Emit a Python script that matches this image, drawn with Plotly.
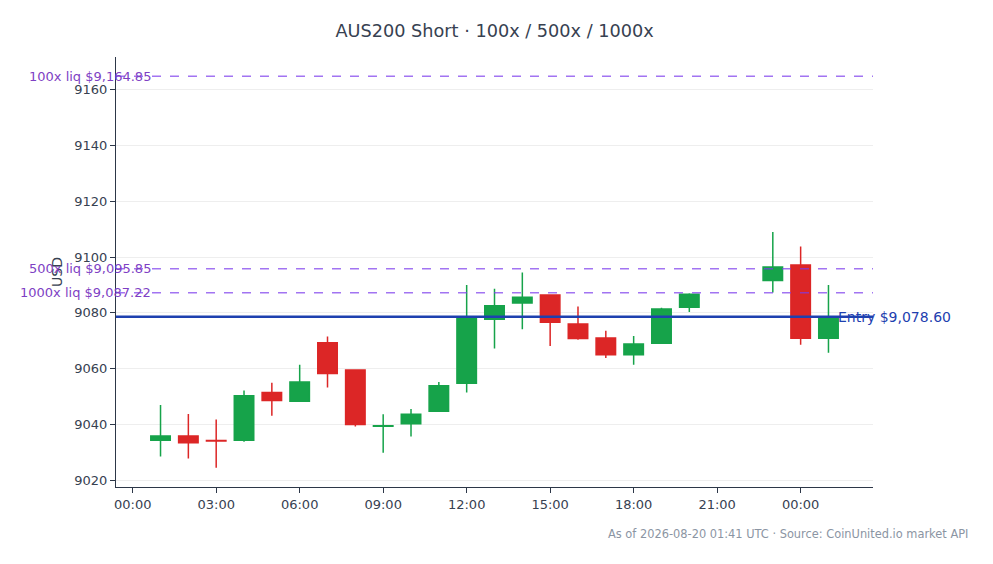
import plotly.graph_objects as go

# %% Data ----------------------------------------------------------------------
times = [
    "2026-08-19 01:00", "2026-08-19 02:00", "2026-08-19 03:00", "2026-08-19 04:00",
    "2026-08-19 05:00", "2026-08-19 06:00", "2026-08-19 07:00", "2026-08-19 08:00",
    "2026-08-19 09:00", "2026-08-19 10:00", "2026-08-19 11:00", "2026-08-19 12:00",
    "2026-08-19 13:00", "2026-08-19 14:00", "2026-08-19 15:00", "2026-08-19 16:00",
    "2026-08-19 17:00", "2026-08-19 18:00", "2026-08-19 19:00", "2026-08-19 20:00",
    "2026-08-19 23:00", "2026-08-20 00:00", "2026-08-20 01:00",
]
opens = [9034.3, 9035.8, 9034.2, 9034.3, 9051.4, 9048.3, 9069.3, 9059.5,
         9039.3, 9040.2, 9044.7, 9054.7, 9077.7, 9083.5, 9086.4, 9076.0,
         9071.0, 9065.0, 9069.1, 9082.0, 9091.6, 9097.2, 9070.9]
highs = [9046.9, 9043.7, 9041.7, 9052.1, 9054.9, 9061.4, 9071.5, 9059.7,
         9043.6, 9045.5, 9055.2, 9090.0, 9088.6, 9094.5, 9086.6, 9082.3,
         9073.6, 9071.7, 9081.8, 9087.0, 9109.0, 9103.8, 9090.0]
lows = [9028.4, 9027.7, 9024.4, 9033.7, 9043.1, 9048.1, 9053.2, 9039.2,
        9029.8, 9035.6, 9044.5, 9051.4, 9067.2, 9074.1, 9068.1, 9070.3,
        9063.8, 9061.4, 9068.9, 9080.3, 9087.3, 9068.5, 9065.7]
closes = [9035.8, 9033.4, 9034.0, 9050.2, 9048.5, 9055.2, 9058.2, 9039.9,
          9039.5, 9043.6, 9053.8, 9078.3, 9082.5, 9085.6, 9076.6, 9070.8,
          9065.0, 9068.8, 9081.4, 9086.7, 9096.4, 9070.9, 9078.4]

entry_price = 9078.60
liq_labels = ["100x", "500x", "1000x"]
liq_prices = [9164.85, 9095.85, 9087.22]

# %% Figure --------------------------------------------------------------------
green = "#16a34a"
red = "#dc2626"
purple = "#7c3aed"
navy = "#1e40af"
ink = "#374151"

fig = go.Figure(
    go.Candlestick(
        x=times,
        open=opens,
        high=highs,
        low=lows,
        close=closes,
        increasing=dict(line=dict(color=green, width=1.5), fillcolor=green),
        decreasing=dict(line=dict(color=red, width=1.5), fillcolor=red),
        showlegend=False,
    )
)

# liquidation levels
for lab, price in zip(liq_labels, liq_prices):
    fig.add_hline(y=price, line=dict(color=purple, width=1.5, dash="dash"), opacity=0.7)
    fig.add_annotation(
        x=0, xref="paper", y=price, yref="y",
        text=f"{lab} liq ${price:,.2f}",
        showarrow=False, xanchor="right", yanchor="middle", xshift=37,
        font=dict(size=13, color="#7e3fc4"),
    )

# entry
fig.add_hline(y=entry_price, line=dict(color=navy, width=2.5))
fig.add_annotation(
    x=1, xref="paper", y=entry_price, yref="y",
    text=f"Entry ${entry_price:,.2f}",
    showarrow=False, xanchor="left", yanchor="middle", xshift=-37,
    font=dict(size=14, color=navy),
)

fig.add_annotation(
    x=1, xref="paper", y=0, yref="paper",
    text="As of 2026-08-20 01:41 UTC · Source: CoinUnited.io market API",
    showarrow=False, xanchor="right", yanchor="top", xshift=97, yshift=-38,
    font=dict(size=11.4, color="#8b95a3"),
)

fig.update_layout(
    width=993,
    height=564,
    margin=dict(l=108, r=128, t=49, b=85),
    paper_bgcolor="white",
    plot_bgcolor="white",
    boxgap=0,
    font=dict(family="DejaVu Sans", size=13, color=ink),
    title=dict(
        text="AUS200 Short · 100x / 500x / 1000x",
        x=0.49, xanchor="center", y=0.959, yanchor="middle",
        font=dict(size=17.7, color=ink),
    ),
)
fig.update_xaxes(
    range=["2026-08-18 23:24", "2026-08-20 02:36"],
    tickformat="%H:%M",
    dtick=3 * 3600 * 1000,
    tick0="2026-08-19 00:00",
    showgrid=False,
    showline=True, linecolor="#2d3748", linewidth=1,
    ticks="outside", tickcolor="#2d3748", ticklen=5,
    rangeslider=dict(visible=False),
)
fig.update_yaxes(
    range=[9017.5, 9171.8],
    dtick=20,
    showgrid=True, gridcolor="#eeeeee",
    showline=True, linecolor="#2d3748", linewidth=1,
    ticks="outside", tickcolor="#2d3748", ticklen=5,
    zeroline=False,
    title=dict(text="USD", standoff=8, font=dict(size=14)),
)

fig.write_html("out.html")
